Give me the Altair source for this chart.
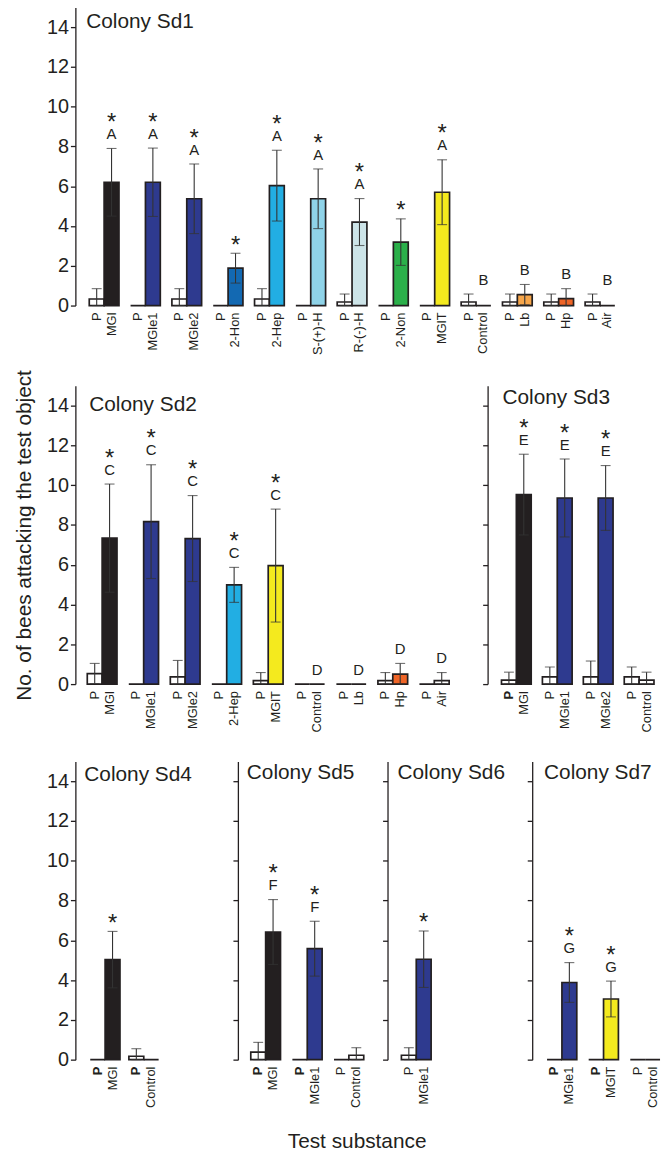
import altair as alt
import pandas as pd

FONT = "Liberation Sans"
INK = "#231f20"

# ---------------- data ----------------
SD1_NAMES = ["MGl", "MGle1", "MGle2", "2-Hon", "2-Hep", "S-(+)-H", "R-(-)-H", "2-Non", "MGlT", "Control", "Lb", "Hp", "Air"]
SD1_P = [0.33, 0, 0.33, 0, 0.33, 0, 0.18, 0, 0, 0.18, 0.18, 0.18, 0.18]
SD1_P_SE = [0.52, 0, 0.52, 0, 0.52, 0, 0.40, 0, 0, 0.40, 0.40, 0.40, 0.40]
SD1_T = [6.2, 6.2, 5.37, 1.88, 6.03, 5.37, 4.2, 3.19, 5.7, 0, 0.55, 0.35, 0]
SD1_T_SE = [1.7, 1.72, 1.75, 0.75, 1.78, 1.5, 1.18, 1.17, 1.63, 0, 0.51, 0.5, 0]
SD1_LET = ["A", "A", "A", "", "A", "A", "A", "", "A", "B", "B", "B", "B"]
SD1_STAR = [1, 1, 1, 1, 1, 1, 1, 1, 1, 0, 0, 0, 0]

SD2_NAMES = ["MGl", "MGle1", "MGle2", "2-Hep", "MGlT", "Control", "Lb", "Hp", "Air"]
SD2_P = [0.53, 0, 0.36, 0, 0.17, 0, 0, 0.17, 0]
SD2_P_SE = [0.51, 0, 0.83, 0, 0.41, 0, 0, 0.41, 0]
SD2_T = [7.34, 8.17, 7.32, 4.99, 5.96, 0, 0, 0.5, 0.17]
SD2_T_SE = [2.72, 2.86, 2.16, 0.88, 2.84, 0, 0, 0.54, 0.41]
SD2_LET = ["C", "C", "C", "C", "C", "D", "D", "D", "D"]
SD2_STAR = [1, 1, 1, 1, 1, 0, 0, 0, 0]

SD3_NAMES = ["MGl", "MGle1", "MGle2", "Control"]
SD3_P = [0.2, 0.36, 0.36, 0.36]
SD3_P_SE = [0.4, 0.5, 0.8, 0.5]
SD3_T = [9.53, 9.36, 9.36, 0.2]
SD3_T_SE = [2.03, 1.96, 1.63, 0.4]
SD3_LET = ["E", "E", "E", ""]
SD3_STAR = [1, 1, 1, 0]

SD4_NAMES = ["MGl", "Control"]
SD4_P = [0, 0.17]
SD4_P_SE = [0, 0.38]
SD4_T = [5.03, 0]
SD4_T_SE = [1.42, 0]
SD4_LET = ["", ""]
SD4_STAR = [1, 0]

SD5_NAMES = ["MGl", "MGle1", "Control"]
SD5_P = [0.38, 0, 0]
SD5_P_SE = [0.49, 0, 0]
SD5_T = [6.42, 5.58, 0.22]
SD5_T_SE = [1.63, 1.38, 0.38]
SD5_LET = ["F", "F", ""]
SD5_STAR = [1, 1, 0]

SD6_NAMES = ["MGle1"]
SD6_P = [0.22]
SD6_P_SE = [0.38]
SD6_T = [5.05]
SD6_T_SE = [1.42]
SD6_LET = [""]
SD6_STAR = [1]

SD7_NAMES = ["MGle1", "MGlT", "Control"]
SD7_P = [0, 0, 0]
SD7_P_SE = [0, 0, 0]
SD7_T = [3.88, 3.05, 0]
SD7_T_SE = [1.0, 0.9, 0]
SD7_LET = ["G", "G", ""]
SD7_STAR = [1, 1, 0]

Y_TICKS = [0, 2, 4, 6, 8, 10, 12, 14]
Y_TITLE = "No. of bees attacking the test object"
X_TITLE = "Test substance"

# ---------------- styles ----------------
COLORS = {
    "P": "#ffffff", "MGl": "#231f20", "MGle1": "#2e3a8f", "MGle2": "#2e3a8f",
    "2-Hon": "#1369b2", "2-Hep": "#22aee3", "S-(+)-H": "#8fd3e8", "R-(-)-H": "#cde4e8",
    "2-Non": "#2bb04a", "MGlT": "#f4ea1e", "Control": "#ffffff", "Lb": "#f7a64a",
    "Hp": "#ef6527", "Air": "#ffffff",
}
H = 301
PAIR = 30


def panel(title, names, p, pse, t, tse, letters, stars, width, step, left,
          show_labels=True, ytitle="", tx=11, ty=15, bold_p=()):
    rows = []
    ann = []
    for i, n in enumerate(names):
        his = []
        for bar, m, s in (("P", p[i], pse[i]), ("T", t[i], tse[i])):
            rows.append(dict(group=n, bar=bar, mean=m, lo=max(0.0, m - s), hi=m + s,
                             se=s, label=("P" if bar == "P" else n),
                             ckey=("P" if bar == "P" else n),
                             bold=int(bar == "P" and n in bold_p)))
            his.append(m + s)
        top = max(his)
        ly = top + 0.72
        sy = (ly + 0.85) if letters[i] else (top + 0.68)
        ann.append(dict(group=n, bar="T", letter=letters[i],
                        star=("*" if stars[i] else ""), ly=ly, sy=sy))
    df = pd.DataFrame(rows)
    adf = pd.DataFrame(ann)
    n = len(names)
    pi = 1 - PAIR / step
    r0 = left
    r1 = left + step * (n - pi)

    xs = alt.X("group:N", scale=alt.Scale(domain=names, range=[r0, r1], paddingInner=pi,
                                          paddingOuter=0), axis=None)
    xo = alt.XOffset("bar:N", scale=alt.Scale(domain=["P", "T"], paddingInner=0, paddingOuter=0))
    yscale = alt.Scale(domain=[0, 15], nice=False)
    yaxis = alt.Axis(values=Y_TICKS, labels=show_labels, labelFontSize=20, labelFont=FONT,
                     labelColor=INK, tickSize=5, tickColor=INK, tickWidth=1.3,
                     domainColor=INK, domainWidth=1.3, grid=False, labelPadding=2,
                     title=ytitle, titleFontSize=21, titleFont=FONT, titleFontWeight="normal",
                     titleColor=INK, titlePadding=12)

    base = alt.Chart(df)
    bars = base.mark_bar(stroke=INK, strokeWidth=1.7).encode(
        x=xs, xOffset=xo,
        y=alt.Y("mean:Q", scale=yscale, axis=yaxis, title=ytitle),
        fill=alt.Fill("ckey:N", scale=alt.Scale(domain=list(COLORS.keys()),
                                                range=list(COLORS.values())), legend=None),
    )
    err = base.transform_filter("datum.se > 0")
    rule = err.mark_rule(color="#333333", strokeWidth=1.1).encode(
        x=xs, xOffset=xo, y=alt.Y("lo:Q", scale=yscale, title=ytitle), y2="hi:Q")
    cap_hi = err.mark_tick(color="#333333", thickness=1.1, size=10, orient="horizontal").encode(
        x=xs, xOffset=xo, y=alt.Y("hi:Q", scale=yscale, title=ytitle))
    cap_lo = err.mark_tick(color="#333333", thickness=1.1, size=10, orient="horizontal").encode(
        x=xs, xOffset=xo, y=alt.Y("lo:Q", scale=yscale, title=ytitle))
    labels = base.transform_filter("datum.bold == 0").mark_text(
        angle=270, align="right", baseline="middle", fontSize=13, font=FONT, color=INK).encode(
        x=xs, xOffset=xo, y=alt.value(H + 7), text="label:N")
    labels_b = base.transform_filter("datum.bold == 1").mark_text(
        angle=270, align="right", baseline="middle", fontSize=13, font=FONT, color=INK,
        fontWeight="bold").encode(
        x=xs, xOffset=xo, y=alt.value(H + 7), text="label:N")
    abase = alt.Chart(adf)
    lett = abase.mark_text(fontSize=15, font=FONT, color=INK, baseline="middle").encode(
        x=xs, xOffset=xo, y=alt.Y("ly:Q", scale=yscale, title=ytitle), text="letter:N")
    star = abase.mark_text(fontSize=24, font=FONT, color=INK, baseline="middle", dy=6).encode(
        x=xs, xOffset=xo, y=alt.Y("sy:Q", scale=yscale, title=ytitle), text="star:N")
    ttl = alt.Chart(pd.DataFrame({"t": [title]})).mark_text(
        align="left", baseline="middle", fontSize=21, font=FONT, color=INK).encode(
        x=alt.value(tx), y=alt.value(ty), text="t:N")
    return alt.layer(bars, rule, cap_hi, cap_lo, labels, labels_b, lett, star, ttl).properties(
        width=width, height=H)


sd1 = panel("Colony Sd1", SD1_NAMES, SD1_P, SD1_P_SE, SD1_T, SD1_T_SE, SD1_LET, SD1_STAR,
            width=559, step=41.7, left=14)
sd2 = panel("Colony Sd2", SD2_NAMES, SD2_P, SD2_P_SE, SD2_T, SD2_T_SE, SD2_LET, SD2_STAR,
            width=406, step=41.9, left=12, ytitle=Y_TITLE, tx=14, ty=19)
sd3 = panel("Colony Sd3", SD3_NAMES, SD3_P, SD3_P_SE, SD3_T, SD3_T_SE, SD3_LET, SD3_STAR,
            width=172, step=41.3, left=14, show_labels=False, tx=15, ty=12, bold_p=("MGl",))
sd4 = panel("Colony Sd4", SD4_NAMES, SD4_P, SD4_P_SE, SD4_T, SD4_T_SE, SD4_LET, SD4_STAR,
            width=154, step=39, left=15, tx=9, ty=14, bold_p=("MGl", "Control"))
sd5 = panel("Colony Sd5", SD5_NAMES, SD5_P, SD5_P_SE, SD5_T, SD5_T_SE, SD5_LET, SD5_STAR,
            width=141, step=42, left=13, show_labels=False, tx=9, ty=12, bold_p=("MGl", "MGle1"))
sd6 = panel("Colony Sd6", SD6_NAMES, SD6_P, SD6_P_SE, SD6_T, SD6_T_SE, SD6_LET, SD6_STAR,
            width=136, step=42, left=14, show_labels=False, tx=10, ty=12)
sd7 = panel("Colony Sd7", SD7_NAMES, SD7_P, SD7_P_SE, SD7_T, SD7_T_SE, SD7_LET, SD7_STAR,
            width=128, step=42, left=15, show_labels=False, tx=12, ty=12, bold_p=("MGle1", "MGlT"))

row2 = alt.hconcat(sd2, sd3, spacing=10, bounds="flush")
row3 = alt.hconcat(sd4, sd5, sd6, sd7, spacing=10, bounds="flush")
upper = alt.vconcat(sd1, row2, spacing=14)

chart = alt.vconcat(
    upper, row3, spacing=29,
    title=alt.TitleParams(X_TITLE, orient="bottom", anchor="middle", fontSize=21, font=FONT,
                          fontWeight="normal", color=INK, offset=23, dx=20),
).properties(
    padding={"left": 5, "top": -6, "right": 2, "bottom": 5}
).configure_view(strokeWidth=0)

chart.save("out.html", embed_options={"renderer": "svg", "actions": False})
